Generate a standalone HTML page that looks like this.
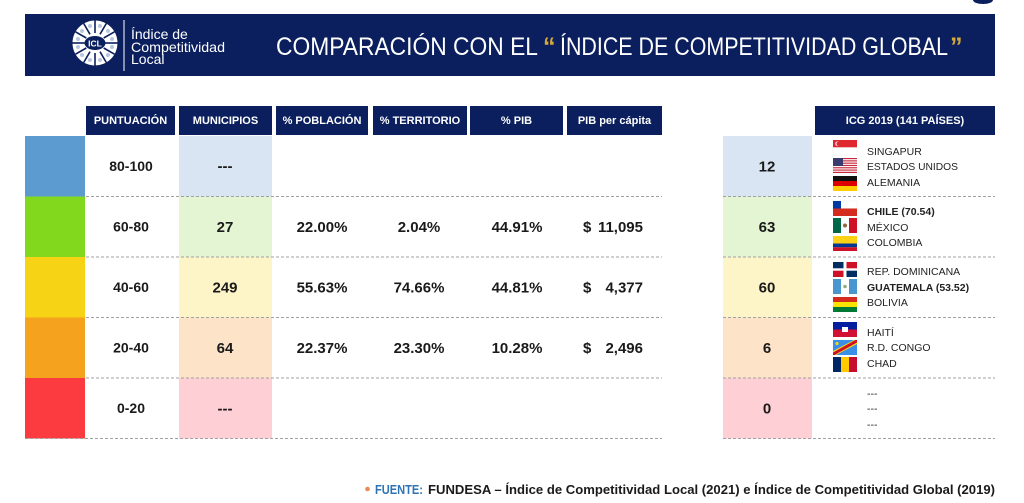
<!DOCTYPE html>
<html><head><meta charset="utf-8"><style>
html,body{margin:0;padding:0;background:#fff;}
svg{display:block;}
text{font-family:"Liberation Sans",Arial,sans-serif;}
</style></head><body>
<svg width="1024" height="503" viewBox="0 0 1024 503" xmlns="http://www.w3.org/2000/svg">
<rect width="1024" height="503" fill="#fff"/>
<ellipse cx="983" cy="0" rx="10" ry="4" fill="#0b1f5e"/>
<!-- Banner -->
<rect x="25" y="14" width="970" height="62" fill="#0b1f5e"/>
<!-- logo -->
<circle cx="95" cy="43" r="22.5" fill="#fff"/>
<g stroke="#0b1f5e" stroke-width="1.6">
<line x1="95" y1="33" x2="95" y2="20.5"/><line x1="95" y1="53" x2="95" y2="65.5"/>
<line x1="85" y1="43" x2="72.5" y2="43"/><line x1="105" y1="43" x2="117.5" y2="43"/>
<line x1="100" y1="34.3" x2="106.3" y2="23.5"/><line x1="90" y1="51.7" x2="83.7" y2="62.5"/>
<line x1="90" y1="34.3" x2="83.7" y2="23.5"/><line x1="100" y1="51.7" x2="106.3" y2="62.5"/>
<line x1="103.7" y1="38" x2="114.5" y2="31.8"/><line x1="86.3" y1="48" x2="75.5" y2="54.2"/>
<line x1="86.3" y1="38" x2="75.5" y2="31.8"/><line x1="103.7" y1="48" x2="114.5" y2="54.2"/>
</g>
<g fill="#b8c6e0">
<circle cx="90" cy="26" r="2"/><circle cx="100" cy="26" r="2"/><circle cx="108" cy="31" r="2"/><circle cx="112" cy="39" r="2"/><circle cx="112" cy="47" r="2"/><circle cx="108" cy="55" r="2"/><circle cx="100" cy="60" r="2"/><circle cx="90" cy="60" r="2"/><circle cx="82" cy="55" r="2"/><circle cx="78" cy="47" r="2"/><circle cx="78" cy="39" r="2"/><circle cx="82" cy="31" r="2"/>
</g>
<ellipse cx="95" cy="43" rx="10.5" ry="7" fill="#0b1f5e"/>
<text x="95" y="46.5" font-size="8.5" font-weight="bold" fill="#fff" text-anchor="middle">ICL</text>
<line x1="124" y1="20" x2="124" y2="71" stroke="#fff" stroke-width="1"/>
<text x="131" y="39" font-size="14" fill="#fff">Índice de</text>
<text x="131" y="52" font-size="14" fill="#fff" textLength="94" lengthAdjust="spacingAndGlyphs">Competitividad</text>
<text x="131" y="64" font-size="14" fill="#fff">Local</text>
<!-- Title -->
<text x="276" y="55" font-size="25" fill="#fff" textLength="262" lengthAdjust="spacingAndGlyphs">COMPARACIÓN CON EL</text>
<text x="543" y="55" font-size="25" fill="#d4a93a" font-weight="bold">“</text>
<text x="560" y="55" font-size="25" fill="#fff" textLength="388" lengthAdjust="spacingAndGlyphs">ÍNDICE DE COMPETITIVIDAD GLOBAL</text>
<text x="950" y="55" font-size="25" fill="#d4a93a" font-weight="bold">”</text>

<!-- Table header -->
<g fill="#0b1f5e">
<rect x="86" y="106" width="89" height="29"/>
<rect x="179" y="106" width="93" height="29"/>
<rect x="276" y="106" width="92" height="29"/>
<rect x="373" y="106" width="94" height="29"/>
<rect x="470" y="106" width="93" height="29"/>
<rect x="567" y="106" width="95" height="29"/>
<rect x="815" y="106" width="180" height="29"/>
</g>
<g font-size="11" font-weight="bold" fill="#fff" text-anchor="middle">
<text x="130.5" y="124">PUNTUACIÓN</text>
<text x="225.5" y="124">MUNICIPIOS</text>
<text x="322" y="124">% POBLACIÓN</text>
<text x="420" y="124">% TERRITORIO</text>
<text x="516.5" y="124">% PIB</text>
<text x="614.5" y="124">PIB per cápita</text>
<text x="905" y="124">ICG 2019 (141 PAÍSES)</text>
</g>

<!-- swatches -->
<rect x="25" y="136" width="60" height="60.5" fill="#5b9bd0"/>
<rect x="25" y="196.5" width="60" height="60.5" fill="#82d81c"/>
<rect x="25" y="257" width="60" height="60.5" fill="#f7d315"/>
<rect x="25" y="317.5" width="60" height="60.5" fill="#f5a21e"/>
<rect x="25" y="378" width="60" height="60.5" fill="#fb3b3f"/>
<!-- municipios cells -->
<rect x="179" y="136" width="93" height="60.5" fill="#d9e5f3"/>
<rect x="179" y="196.5" width="93" height="60.5" fill="#e3f5d3"/>
<rect x="179" y="257" width="93" height="60.5" fill="#fdf4c8"/>
<rect x="179" y="317.5" width="93" height="60.5" fill="#fde4c8"/>
<rect x="179" y="378" width="93" height="60.5" fill="#fecfd4"/>
<!-- ICG number cells -->
<rect x="723" y="136" width="89" height="60.5" fill="#d9e5f3"/>
<rect x="723" y="196.5" width="89" height="60.5" fill="#e3f5d3"/>
<rect x="723" y="257" width="89" height="60.5" fill="#fdf4c8"/>
<rect x="723" y="317.5" width="89" height="60.5" fill="#fde4c8"/>
<rect x="723" y="378" width="89" height="60.5" fill="#fecfd4"/>

<!-- dashed lines -->
<g stroke="#a0a0a0" stroke-width="1" stroke-dasharray="3 2">
<line x1="86" y1="196.5" x2="662" y2="196.5"/>
<line x1="86" y1="257" x2="662" y2="257"/>
<line x1="86" y1="317.5" x2="662" y2="317.5"/>
<line x1="86" y1="378" x2="662" y2="378"/>
<line x1="25" y1="438.5" x2="662" y2="438.5"/>
<line x1="723" y1="196.5" x2="995" y2="196.5"/>
<line x1="723" y1="257" x2="995" y2="257"/>
<line x1="723" y1="317.5" x2="995" y2="317.5"/>
<line x1="723" y1="378" x2="995" y2="378"/>
<line x1="723" y1="438.5" x2="995" y2="438.5"/>
</g>

<!-- left table text -->
<g font-weight="bold" fill="#1a1a1a" text-anchor="middle">
<text x="131" y="171" font-size="14">80-100</text>
<text x="131" y="231.5" font-size="14">60-80</text>
<text x="131" y="292" font-size="14">40-60</text>
<text x="131" y="352.5" font-size="14">20-40</text>
<text x="131" y="413" font-size="14">0-20</text>

<text x="225" y="171" font-size="15">---</text>
<text x="225" y="232" font-size="15">27</text>
<text x="225" y="292.5" font-size="15">249</text>
<text x="225" y="353" font-size="15">64</text>
<text x="225" y="413.5" font-size="15">---</text>

<text x="322" y="232" font-size="15">22.00%</text>
<text x="322" y="292.5" font-size="15">55.63%</text>
<text x="322" y="353" font-size="15">22.37%</text>

<text x="419" y="232" font-size="15">2.04%</text>
<text x="419" y="292.5" font-size="15">74.66%</text>
<text x="419" y="353" font-size="15">23.30%</text>

<text x="517" y="232" font-size="15">44.91%</text>
<text x="517" y="292.5" font-size="15">44.81%</text>
<text x="517" y="353" font-size="15">10.28%</text>
</g>
<g font-weight="bold" fill="#1a1a1a" font-size="15">
<text x="583" y="232">$</text><text x="643" y="232" text-anchor="end">11,095</text>
<text x="583" y="292.5">$</text><text x="643" y="292.5" text-anchor="end">4,377</text>
<text x="583" y="353">$</text><text x="643" y="353" text-anchor="end">2,496</text>
</g>

<!-- right numbers -->
<g font-weight="bold" fill="#1a1a1a" text-anchor="middle" font-size="15">
<text x="767" y="171.5">12</text>
<text x="767" y="232">63</text>
<text x="767" y="292.5">60</text>
<text x="767" y="353">6</text>
<text x="767" y="413.5">0</text>
</g>

<!-- flags -->
<!-- Singapore -->
<rect x="833" y="140" width="24" height="7.5" fill="#e0262f"/>
<rect x="833" y="147.5" width="24" height="7.5" fill="#fff" stroke="#eee" stroke-width="0.5"/>
<circle cx="837.5" cy="143.7" r="2.2" fill="#fff"/><circle cx="838.5" cy="143.7" r="2" fill="#e0262f"/>
<!-- US -->
<rect x="833" y="158" width="24" height="15" fill="#fff"/>
<g fill="#c8273a">
<rect x="833" y="158" width="24" height="1.15"/><rect x="833" y="160.3" width="24" height="1.15"/><rect x="833" y="162.6" width="24" height="1.15"/><rect x="833" y="164.9" width="24" height="1.15"/><rect x="833" y="167.2" width="24" height="1.15"/><rect x="833" y="169.5" width="24" height="1.15"/><rect x="833" y="171.8" width="24" height="1.2"/>
</g>
<rect x="833" y="158" width="10" height="8" fill="#3c3b6e"/>
<!-- Germany -->
<rect x="833" y="176" width="24" height="5" fill="#111"/>
<rect x="833" y="181" width="24" height="5" fill="#dd0000"/>
<rect x="833" y="186" width="24" height="5" fill="#ffce00"/>
<!-- Chile -->
<rect x="833" y="201" width="24" height="7.5" fill="#fff" stroke="#eee" stroke-width="0.5"/>
<rect x="833" y="201" width="8" height="7.5" fill="#0039a6"/>
<rect x="833" y="208.5" width="24" height="7.5" fill="#d52b1e"/>
<!-- Mexico -->
<rect x="833" y="218" width="8" height="15" fill="#006847"/>
<rect x="841" y="218" width="8" height="15" fill="#fff"/>
<rect x="849" y="218" width="8" height="15" fill="#ce1126"/>
<circle cx="845" cy="225.5" r="2" fill="#8c6a3a"/>
<!-- Colombia -->
<rect x="833" y="236" width="24" height="7.5" fill="#fcd116"/>
<rect x="833" y="243.5" width="24" height="3.75" fill="#003893"/>
<rect x="833" y="247.25" width="24" height="3.75" fill="#ce1126"/>
<!-- Dominican Rep -->
<rect x="833" y="262" width="24" height="15" fill="#fff"/>
<rect x="833" y="262" width="10.5" height="6.3" fill="#002d62"/>
<rect x="846.5" y="262" width="10.5" height="6.3" fill="#ce1126"/>
<rect x="833" y="270.7" width="10.5" height="6.3" fill="#ce1126"/>
<rect x="846.5" y="270.7" width="10.5" height="6.3" fill="#002d62"/>
<!-- Guatemala -->
<rect x="833" y="279" width="8" height="15" fill="#4997d0"/>
<rect x="841" y="279" width="8" height="15" fill="#fff"/>
<rect x="849" y="279" width="8" height="15" fill="#4997d0"/>
<circle cx="845" cy="286.5" r="1.8" fill="#8fae7a"/>
<!-- Bolivia -->
<rect x="833" y="297" width="24" height="5" fill="#d52b1e"/>
<rect x="833" y="302" width="24" height="5" fill="#f9e300"/>
<rect x="833" y="307" width="24" height="5" fill="#007934"/>
<!-- Haiti -->
<rect x="833" y="322" width="24" height="7.5" fill="#00209f"/>
<rect x="833" y="329.5" width="24" height="7.5" fill="#d21034"/>
<rect x="842" y="327" width="6" height="5" fill="#fff"/>
<!-- DR Congo -->
<rect x="833" y="340" width="24" height="15" fill="#3a8fe8"/>
<polygon points="833,351 854,340 857,340 857,344 836,355 833,355" fill="#f7d618"/>
<polygon points="833,352.5 855.5,340 857,340 857,342.5 834.5,355 833,355" fill="#ce1021"/>
<circle cx="837" cy="343.5" r="1.6" fill="#f7d618"/>
<!-- Chad -->
<rect x="833" y="357" width="8" height="15" fill="#002664"/>
<rect x="841" y="357" width="8" height="15" fill="#fecb00"/>
<rect x="849" y="357" width="8" height="15" fill="#c60c30"/>

<!-- country names -->
<g font-size="10.5" fill="#222">
<text x="867" y="155">SINGAPUR</text>
<text x="867" y="170" textLength="91" lengthAdjust="spacingAndGlyphs">ESTADOS UNIDOS</text>
<text x="867" y="186">ALEMANIA</text>
<text x="867" y="215" font-weight="bold">CHILE (70.54)</text>
<text x="867" y="231">MÉXICO</text>
<text x="867" y="246">COLOMBIA</text>
<text x="867" y="275">REP. DOMINICANA</text>
<text x="867" y="291" font-weight="bold">GUATEMALA (53.52)</text>
<text x="867" y="306">BOLIVIA</text>
<text x="867" y="336">HAITÍ</text>
<text x="867" y="351">R.D. CONGO</text>
<text x="867" y="367">CHAD</text>
<text x="867" y="397">---</text>
<text x="867" y="412">---</text>
<text x="867" y="428">---</text>
</g>

<!-- footer -->
<circle cx="367.5" cy="489" r="2.3" fill="#e58a5a"/>
<text x="375" y="494" font-size="13" font-weight="bold" fill="#2e74b5" textLength="48" lengthAdjust="spacingAndGlyphs">FUENTE:</text>
<text x="428" y="494" font-size="13" font-weight="bold" fill="#1a1a1a" textLength="567" lengthAdjust="spacingAndGlyphs">FUNDESA – Índice de Competitividad Local (2021) e Índice de Competitividad Global (2019)</text>
</svg>
</body></html>
